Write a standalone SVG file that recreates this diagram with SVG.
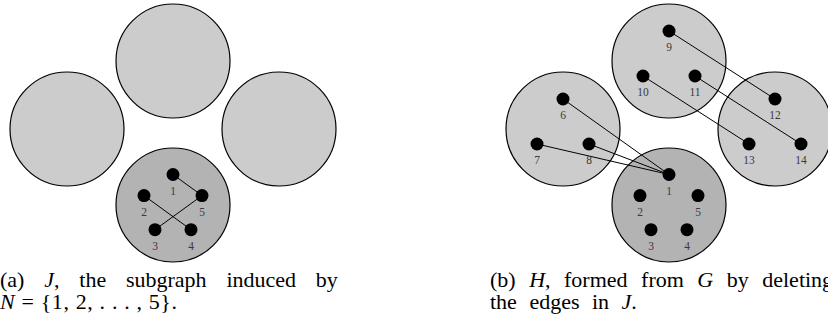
<svg xmlns="http://www.w3.org/2000/svg" width="828" height="324" viewBox="0 0 828 324">
<style>
.cl{fill:#cccccc;stroke:#000;stroke-width:1.2}
.cn{fill:#b3b3b3;stroke:#000;stroke-width:1.2}
.v{fill:#000}
.lb{font-family:"Liberation Serif","DejaVu Serif",serif;font-size:11.5px;fill:#3a3a3a;text-anchor:middle}
.e{stroke:#000;stroke-width:1;fill:none}
.cap{font-family:"Liberation Serif","DejaVu Serif",serif;font-size:22px;fill:#000}
.it{font-style:italic}
</style>
<!-- Panel (a) -->
<g id="a-clusters">
<circle id="a-top" class="cl" cx="173" cy="61" r="57"/>
<circle id="a-left" class="cl" cx="67" cy="129" r="57"/>
<circle id="a-right" class="cl" cx="279" cy="129" r="57"/>
<circle id="a-bottom" class="cn" cx="173" cy="205" r="57"/>
</g>
<g id="a-edges">
<line class="e" x1="173" y1="174.5" x2="202" y2="195.6"/>
<line class="e" x1="144" y1="195.6" x2="191" y2="229.7"/>
<line class="e" x1="155" y1="229.7" x2="202" y2="195.6"/>
</g>
<g id="a-n1"><circle class="v" cx="173" cy="174.5" r="6.5"/><text class="lb" x="173" y="195">1</text></g>
<g id="a-n2"><circle class="v" cx="144" cy="195.6" r="6.5"/><text class="lb" x="144" y="216">2</text></g>
<g id="a-n5"><circle class="v" cx="202" cy="195.6" r="6.5"/><text class="lb" x="202" y="216">5</text></g>
<g id="a-n3"><circle class="v" cx="155" cy="229.7" r="6.5"/><text class="lb" x="155" y="250">3</text></g>
<g id="a-n4"><circle class="v" cx="191" cy="229.7" r="6.5"/><text class="lb" x="191" y="250">4</text></g>
<text class="cap" x="0" y="287" word-spacing="14.3">(a) <tspan class="it">J</tspan>, the subgraph induced by</text>
<text class="cap" x="0" y="309" textLength="177" lengthAdjust="spacing"><tspan class="it">N</tspan> = {1, 2, . . . , 5}.</text>

<!-- Panel (b) -->
<g id="b-clusters">
<circle id="b-top" class="cl" cx="669" cy="61" r="57"/>
<circle id="b-left" class="cl" cx="563" cy="129" r="57"/>
<circle id="b-right" class="cl" cx="775" cy="129" r="57"/>
<circle id="b-bottom" class="cn" cx="669" cy="205" r="57"/>
</g>
<g id="b-edges">
<line class="e" x1="669" y1="31" x2="775" y2="99"/>
<line class="e" x1="643" y1="76" x2="749" y2="144"/>
<line class="e" x1="695" y1="76" x2="801" y2="144"/>
<line class="e" x1="563" y1="99" x2="669" y2="174.5"/>
<line class="e" x1="537" y1="144" x2="669" y2="174.5"/>
<line class="e" x1="589" y1="144" x2="669" y2="174.5"/>
</g>
<g id="b-n9"><circle class="v" cx="669" cy="31" r="6.5"/><text class="lb" x="669" y="51">9</text></g>
<g id="b-n10"><circle class="v" cx="643" cy="76" r="6.5"/><text class="lb" x="643" y="96">10</text></g>
<g id="b-n11"><circle class="v" cx="695" cy="76" r="6.5"/><text class="lb" x="695" y="96">11</text></g>
<g id="b-n6"><circle class="v" cx="563" cy="99" r="6.5"/><text class="lb" x="563" y="119">6</text></g>
<g id="b-n7"><circle class="v" cx="537" cy="144" r="6.5"/><text class="lb" x="537" y="164">7</text></g>
<g id="b-n8"><circle class="v" cx="589" cy="144" r="6.5"/><text class="lb" x="589" y="164">8</text></g>
<g id="b-n12"><circle class="v" cx="775" cy="99" r="6.5"/><text class="lb" x="775" y="119">12</text></g>
<g id="b-n13"><circle class="v" cx="749" cy="144" r="6.5"/><text class="lb" x="749" y="164">13</text></g>
<g id="b-n14"><circle class="v" cx="801" cy="144" r="6.5"/><text class="lb" x="801" y="164">14</text></g>
<g id="b-n1"><circle class="v" cx="669" cy="174.5" r="6.5"/><text class="lb" x="669" y="195">1</text></g>
<g id="b-n2"><circle class="v" cx="640" cy="195.6" r="6.5"/><text class="lb" x="640" y="216">2</text></g>
<g id="b-n5"><circle class="v" cx="698" cy="195.6" r="6.5"/><text class="lb" x="698" y="216">5</text></g>
<g id="b-n3"><circle class="v" cx="651" cy="229.7" r="6.5"/><text class="lb" x="651" y="250">3</text></g>
<g id="b-n4"><circle class="v" cx="687" cy="229.7" r="6.5"/><text class="lb" x="687" y="250">4</text></g>
<text class="cap" x="490" y="287" word-spacing="8">(b) <tspan class="it">H</tspan>, formed from <tspan class="it">G</tspan> by deleting</text>
<text class="cap" x="490" y="309" word-spacing="7">the edges in <tspan class="it">J</tspan>.</text>
</svg>
